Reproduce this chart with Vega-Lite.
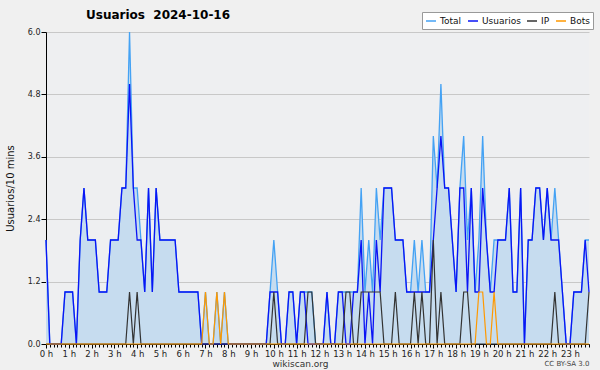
{
  "$schema": "https://vega.github.io/schema/vega-lite/v6.json",
  "width": 543,
  "height": 312,
  "autosize": {"type": "none"},
  "padding": {"left": 46, "top": 32, "right": 11, "bottom": 26},
  "background": "#f0f0f0",
  "title": {"text": "Usuarios\u00a0 2024-10-16", "anchor": "start", "frame": "group", "dx": 40, "offset": -10, "font": "DejaVu Sans", "fontSize": 12, "fontWeight": "bold", "color": "#000000"},
  "config": {"view": {"fill": "#eeeff1", "stroke": null}, "font": "DejaVu Sans"},
  "data": {"values": [
    {"m":0,"U":2,"IP":0,"B":0,"T":2},{"m":10,"U":0,"IP":0,"B":0,"T":0},{"m":20,"U":0,"IP":0,"B":0,"T":0},{"m":30,"U":0,"IP":0,"B":0,"T":0},{"m":40,"U":0,"IP":0,"B":0,"T":0},{"m":50,"U":1,"IP":0,"B":0,"T":1},{"m":60,"U":1,"IP":0,"B":0,"T":1},{"m":70,"U":1,"IP":0,"B":0,"T":1},{"m":80,"U":0,"IP":0,"B":0,"T":0},{"m":90,"U":2,"IP":0,"B":0,"T":2},
    {"m":100,"U":3,"IP":0,"B":0,"T":3},{"m":110,"U":2,"IP":0,"B":0,"T":2},{"m":120,"U":2,"IP":0,"B":0,"T":2},{"m":130,"U":2,"IP":0,"B":0,"T":2},{"m":140,"U":1,"IP":0,"B":0,"T":1},{"m":150,"U":1,"IP":0,"B":0,"T":1},{"m":160,"U":1,"IP":0,"B":0,"T":1},{"m":170,"U":2,"IP":0,"B":0,"T":2},{"m":180,"U":2,"IP":0,"B":0,"T":2},{"m":190,"U":2,"IP":0,"B":0,"T":2},
    {"m":200,"U":3,"IP":0,"B":0,"T":3},{"m":210,"U":3,"IP":0,"B":0,"T":3},{"m":220,"U":5,"IP":1,"B":0,"T":6},{"m":230,"U":3,"IP":0,"B":0,"T":3},{"m":240,"U":2,"IP":1,"B":0,"T":3},{"m":250,"U":2,"IP":0,"B":0,"T":2},{"m":260,"U":1,"IP":0,"B":0,"T":1},{"m":270,"U":3,"IP":0,"B":0,"T":3},{"m":280,"U":1,"IP":0,"B":0,"T":1},{"m":290,"U":3,"IP":0,"B":0,"T":3},
    {"m":300,"U":2,"IP":0,"B":0,"T":2},{"m":310,"U":2,"IP":0,"B":0,"T":2},{"m":320,"U":2,"IP":0,"B":0,"T":2},{"m":330,"U":2,"IP":0,"B":0,"T":2},{"m":340,"U":2,"IP":0,"B":0,"T":2},{"m":350,"U":1,"IP":0,"B":0,"T":1},{"m":360,"U":1,"IP":0,"B":0,"T":1},{"m":370,"U":1,"IP":0,"B":0,"T":1},{"m":380,"U":1,"IP":0,"B":0,"T":1},{"m":390,"U":1,"IP":0,"B":0,"T":1},
    {"m":400,"U":1,"IP":0,"B":0,"T":1},{"m":410,"U":0,"IP":0,"B":0,"T":0},{"m":420,"U":0,"IP":0,"B":1,"T":1},{"m":430,"U":0,"IP":0,"B":0,"T":0},{"m":440,"U":0,"IP":0,"B":0,"T":0},{"m":450,"U":0,"IP":0,"B":1,"T":1},{"m":460,"U":0,"IP":0,"B":0,"T":0},{"m":470,"U":0,"IP":0,"B":1,"T":1},{"m":480,"U":0,"IP":0,"B":0,"T":0},{"m":490,"U":0,"IP":0,"B":0,"T":0},
    {"m":500,"U":0,"IP":0,"B":0,"T":0},{"m":510,"U":0,"IP":0,"B":0,"T":0},{"m":520,"U":0,"IP":0,"B":0,"T":0},{"m":530,"U":0,"IP":0,"B":0,"T":0},{"m":540,"U":0,"IP":0,"B":0,"T":0},{"m":550,"U":0,"IP":0,"B":0,"T":0},{"m":560,"U":0,"IP":0,"B":0,"T":0},{"m":570,"U":0,"IP":0,"B":0,"T":0},{"m":580,"U":0,"IP":0,"B":0,"T":0},{"m":590,"U":1,"IP":0,"B":0,"T":1},
    {"m":600,"U":1,"IP":1,"B":0,"T":2},{"m":610,"U":1,"IP":0,"B":0,"T":1},{"m":620,"U":0,"IP":0,"B":0,"T":0},{"m":630,"U":0,"IP":0,"B":0,"T":0},{"m":640,"U":1,"IP":0,"B":0,"T":1},{"m":650,"U":1,"IP":0,"B":0,"T":1},{"m":660,"U":0,"IP":0,"B":0,"T":0},{"m":670,"U":1,"IP":0,"B":0,"T":1},{"m":680,"U":1,"IP":0,"B":0,"T":1},{"m":690,"U":0,"IP":1,"B":0,"T":1},
    {"m":700,"U":0,"IP":1,"B":0,"T":1},{"m":710,"U":0,"IP":0,"B":0,"T":0},{"m":720,"U":0,"IP":0,"B":0,"T":0},{"m":730,"U":0,"IP":0,"B":0,"T":0},{"m":740,"U":1,"IP":0,"B":0,"T":1},{"m":750,"U":0,"IP":0,"B":0,"T":0},{"m":760,"U":0,"IP":0,"B":0,"T":0},{"m":770,"U":1,"IP":0,"B":0,"T":1},{"m":780,"U":1,"IP":0,"B":0,"T":1},{"m":790,"U":0,"IP":1,"B":0,"T":1},
    {"m":800,"U":0,"IP":1,"B":0,"T":1},{"m":810,"U":1,"IP":0,"B":0,"T":1},{"m":820,"U":1,"IP":0,"B":0,"T":1},{"m":830,"U":2,"IP":1,"B":0,"T":3},{"m":840,"U":0,"IP":1,"B":0,"T":1},{"m":850,"U":1,"IP":1,"B":0,"T":2},{"m":860,"U":0,"IP":1,"B":0,"T":1},{"m":870,"U":2,"IP":1,"B":0,"T":3},{"m":880,"U":1,"IP":1,"B":0,"T":2},{"m":890,"U":3,"IP":0,"B":0,"T":3},
    {"m":900,"U":3,"IP":0,"B":0,"T":3},{"m":910,"U":3,"IP":0,"B":0,"T":3},{"m":920,"U":2,"IP":1,"B":0,"T":2},{"m":930,"U":2,"IP":0,"B":0,"T":2},{"m":940,"U":2,"IP":0,"B":0,"T":2},{"m":950,"U":1,"IP":0,"B":0,"T":1},{"m":960,"U":1,"IP":0,"B":0,"T":1},{"m":970,"U":1,"IP":1,"B":0,"T":2},{"m":980,"U":1,"IP":0,"B":0,"T":1},{"m":990,"U":1,"IP":1,"B":0,"T":2},
    {"m":1000,"U":1,"IP":0,"B":0,"T":1},{"m":1010,"U":1,"IP":0,"B":0,"T":1},{"m":1020,"U":2,"IP":2,"B":0,"T":4},{"m":1030,"U":3,"IP":0,"B":0,"T":3},{"m":1040,"U":4,"IP":1,"B":0,"T":5},{"m":1050,"U":3,"IP":0,"B":0,"T":3},{"m":1060,"U":3,"IP":0,"B":0,"T":3},{"m":1070,"U":2,"IP":0,"B":0,"T":2},{"m":1080,"U":1,"IP":0,"B":0,"T":1},{"m":1090,"U":3,"IP":0,"B":0,"T":3},
    {"m":1100,"U":3,"IP":1,"B":0,"T":4},{"m":1110,"U":1,"IP":1,"B":0,"T":2},{"m":1120,"U":3,"IP":0,"B":0,"T":3},{"m":1130,"U":1,"IP":0,"B":0,"T":1},{"m":1140,"U":1,"IP":0,"B":1,"T":2},{"m":1150,"U":3,"IP":0,"B":1,"T":4},{"m":1160,"U":2,"IP":0,"B":0,"T":2},{"m":1170,"U":1,"IP":0,"B":0,"T":1},{"m":1180,"U":1,"IP":0,"B":1,"T":2},{"m":1190,"U":2,"IP":0,"B":0,"T":2},
    {"m":1200,"U":2,"IP":0,"B":0,"T":2},{"m":1210,"U":2,"IP":0,"B":0,"T":2},{"m":1220,"U":3,"IP":0,"B":0,"T":3},{"m":1230,"U":1,"IP":0,"B":0,"T":1},{"m":1240,"U":1,"IP":0,"B":0,"T":1},{"m":1250,"U":3,"IP":0,"B":0,"T":3},{"m":1260,"U":0,"IP":0,"B":0,"T":0},{"m":1270,"U":2,"IP":0,"B":0,"T":2},{"m":1280,"U":2,"IP":0,"B":0,"T":2},{"m":1290,"U":3,"IP":0,"B":0,"T":3},
    {"m":1300,"U":3,"IP":0,"B":0,"T":3},{"m":1310,"U":2,"IP":0,"B":0,"T":2},{"m":1320,"U":3,"IP":0,"B":0,"T":3},{"m":1330,"U":2,"IP":0,"B":0,"T":2},{"m":1340,"U":2,"IP":1,"B":0,"T":3},{"m":1350,"U":2,"IP":0,"B":0,"T":2},{"m":1360,"U":1,"IP":0,"B":0,"T":1},{"m":1370,"U":0,"IP":0,"B":0,"T":0},{"m":1380,"U":0,"IP":0,"B":0,"T":0},{"m":1390,"U":1,"IP":0,"B":0,"T":1},
    {"m":1400,"U":1,"IP":0,"B":0,"T":1},{"m":1410,"U":1,"IP":0,"B":0,"T":1},{"m":1420,"U":2,"IP":0,"B":0,"T":2},{"m":1430,"U":1,"IP":1,"B":0,"T":2}
  ]},
  "resolve": {"axis": {"x": "independent"}},
  "layer": [
    {
      "mark": {"type": "area", "color": "#c6dcef", "interpolate": "linear", "opacity": 1},
      "encoding": {
        "x": {"field": "m", "type": "quantitative", "scale": {"domain": [0, 1430], "nice": false, "zero": false},
          "axis": {"orient": "bottom", "title": "wikiscan.org", "titleFontSize": 9, "titleFontWeight": "normal", "titleColor": "#333333", "titleX": 254, "titleY": 15, "titleAlign": "center", "titleBaseline": "top",
            "tickCount": 143, "labelExpr": "datum.value % 60 == 0 ? (datum.value / 60) + ' h' : ''", "labelOverlap": false, "labelFlush": false, "labelFontSize": 8.5, "labelColor": "#222222", "labelPadding": 1,
            "tickSize": {"condition": {"test": "datum.value % 60 == 0", "value": 4}, "value": 3}, "tickColor": "#000000", "domainColor": "#000000", "grid": false}},
        "y": {"field": "T", "type": "quantitative", "title": "Usuarios/10 mins", "scale": {"domain": [0, 6], "nice": false},
          "axis": {"values": [0,0.3,0.6,0.9,1.2,1.5,1.8,2.1,2.4,2.7,3.0,3.3,3.6,3.9,4.2,4.5,4.8,5.1,5.4,5.7,6.0],
            "labelExpr": "abs(datum.value / 1.2 - round(datum.value / 1.2)) < 0.01 ? format(datum.value, '.1f') : ''",
            "labelFontSize": 8, "labelColor": "#222222", "labelPadding": 1, "labelOverlap": false, "labelFlush": false,
            "tickSize": {"condition": {"test": "abs(datum.value / 1.2 - round(datum.value / 1.2)) < 0.01", "value": 5}, "value": 3},
            "tickColor": "#000000", "domainColor": "#000000",
            "grid": true, "gridColor": "#c8c8c8", "gridOpacity": {"condition": {"test": "abs(datum.value / 1.2 - round(datum.value / 1.2)) < 0.01 && datum.value > 0", "value": 1}, "value": 0},
            "titleFontSize": 10, "titleFontWeight": "normal", "titleColor": "#111111", "titlePadding": 12}}
      }
    },
    {
      "mark": {"type": "line", "strokeWidth": 1.3, "interpolate": "linear"},
      "encoding": {
        "x": {"field": "m", "type": "quantitative", "axis": {"orient": "bottom", "title": "CC BY-SA 3.0", "labels": false, "ticks": false, "domain": false, "grid": false, "titleAnchor": "end", "titleFontSize": 7, "titleFontWeight": "normal", "titleColor": "#444444", "titleY": 15, "titleBaseline": "top"}},
        "y": {"field": "T", "type": "quantitative", "title": "Usuarios/10 mins"},
        "color": {"datum": "Total", "type": "nominal", "scale": {"domain": ["Total", "Usuarios", "IP", "Bots"], "range": ["#44a2f4", "#0a14f5", "#333333", "#ff9900"]},
          "legend": {"title": null, "orient": "none", "legendX": 376, "legendY": -20, "direction": "horizontal", "symbolType": "stroke", "symbolSize": 100, "symbolStrokeWidth": 1.5, "labelFontSize": 9, "labelColor": "#111111", "columnPadding": 3, "labelOffset": 3, "fillColor": "#ffffff", "strokeColor": "#999999", "padding": 3}}
      }
    },
    {
      "mark": {"type": "line", "strokeWidth": 1.3, "interpolate": "linear"},
      "encoding": {
        "x": {"field": "m", "type": "quantitative", "axis": null},
        "y": {"field": "U", "type": "quantitative", "title": "Usuarios/10 mins"},
        "color": {"datum": "Usuarios", "type": "nominal"}
      }
    },
    {
      "mark": {"type": "line", "strokeWidth": 1.2, "interpolate": "linear"},
      "encoding": {
        "x": {"field": "m", "type": "quantitative", "axis": null},
        "y": {"field": "IP", "type": "quantitative", "title": "Usuarios/10 mins"},
        "color": {"datum": "IP", "type": "nominal"}
      }
    },
    {
      "mark": {"type": "line", "strokeWidth": 1.2, "interpolate": "linear"},
      "encoding": {
        "x": {"field": "m", "type": "quantitative", "axis": null},
        "y": {"field": "B", "type": "quantitative", "title": "Usuarios/10 mins"},
        "color": {"datum": "Bots", "type": "nominal"}
      }
    }
  ]
}
